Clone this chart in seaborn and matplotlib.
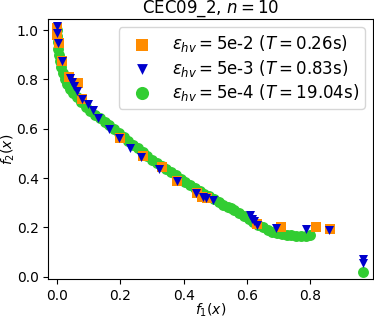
import pandas as pd
import matplotlib.pyplot as plt
import seaborn as sns

# Pareto front approximations
# eps_hv = 5e-2
f1_a = [0.000, 0.001, 0.005, 0.016, 0.038, 0.066, 0.079, 0.198, 0.270, 0.330,
        0.379, 0.442, 0.456, 0.472, 0.630, 0.706, 0.816, 0.861]
f2_a = [1.010, 0.980, 0.946, 0.876, 0.811, 0.784, 0.719, 0.561, 0.490, 0.444,
        0.388, 0.338, 0.324, 0.318, 0.214, 0.203, 0.200, 0.192]

# eps_hv = 5e-3
f1_b = [0.000, 0.000, 0.003, 0.016, 0.040, 0.047, 0.054, 0.063, 0.079, 0.098,
        0.112, 0.130, 0.163, 0.195, 0.230, 0.266, 0.321, 0.377, 0.440, 0.461,
        0.469, 0.491, 0.610, 0.616, 0.622, 0.630, 0.690, 0.787, 0.859, 0.966,
        0.966]
f2_b = [1.015, 0.987, 0.949, 0.876, 0.804, 0.790, 0.773, 0.753, 0.719, 0.699,
        0.676, 0.642, 0.599, 0.561, 0.520, 0.486, 0.438, 0.388, 0.338, 0.324,
        0.318, 0.311, 0.250, 0.233, 0.224, 0.210, 0.199, 0.193, 0.189, 0.070,
        0.056]

# eps_hv = 5e-4 (dense front)
f1_c = [0.000, 0.001, 0.002, 0.004, 0.006, 0.009, 0.013, 0.018, 0.024, 0.032,
        0.040, 0.050, 0.062, 0.075, 0.090, 0.105, 0.120, 0.135, 0.150, 0.165,
        0.180, 0.195, 0.210, 0.225, 0.240, 0.255, 0.270, 0.285, 0.300, 0.315,
        0.330, 0.345, 0.360, 0.375, 0.390, 0.405, 0.420, 0.435, 0.450, 0.465,
        0.480, 0.495, 0.510, 0.525, 0.540, 0.550, 0.560, 0.575, 0.590, 0.605,
        0.620, 0.635, 0.650, 0.665, 0.680, 0.695, 0.710, 0.725, 0.740, 0.755,
        0.770, 0.785, 0.798, 0.966]
f2_c = [1.000, 0.975, 0.950, 0.925, 0.900, 0.875, 0.850, 0.825, 0.800, 0.780,
        0.760, 0.745, 0.728, 0.710, 0.690, 0.673, 0.657, 0.642, 0.628, 0.614,
        0.598, 0.583, 0.567, 0.552, 0.536, 0.520, 0.506, 0.490, 0.475, 0.462,
        0.449, 0.437, 0.424, 0.411, 0.397, 0.384, 0.372, 0.360, 0.348, 0.337,
        0.326, 0.315, 0.304, 0.292, 0.281, 0.278, 0.272, 0.258, 0.245, 0.233,
        0.222, 0.210, 0.200, 0.190, 0.182, 0.176, 0.172, 0.170, 0.168, 0.167,
        0.166, 0.167, 0.168, 0.018]

labels = [r"$\varepsilon_{hv} = $5e-2 ($T = $0.26s)",
          r"$\varepsilon_{hv} = $5e-3 ($T = $0.83s)",
          r"$\varepsilon_{hv} = $5e-4 ($T = $19.04s)"]

fig = plt.figure(figsize=(3.74, 3.17), dpi=100)
ax = fig.add_axes([0.129, 0.12, 0.868, 0.82])

df_c = pd.DataFrame({"f1": f1_c, "f2": f2_c})
df_a = pd.DataFrame({"f1": f1_a, "f2": f2_a})
df_b = pd.DataFrame({"f1": f1_b, "f2": f2_b})

sns.scatterplot(data=df_c, x="f1", y="f2", ax=ax, marker="o", s=62,
                color="limegreen", linewidth=0, label=labels[2], zorder=1)
sns.scatterplot(data=df_a, x="f1", y="f2", ax=ax, marker="s", s=48,
                color="darkorange", linewidth=0, label=labels[0], zorder=2)
sns.scatterplot(data=df_b, x="f1", y="f2", ax=ax, marker="v", s=42,
                color="mediumblue", linewidth=0, label=labels[1], zorder=3)

ax.set_xlim(-0.028, 0.997)
ax.set_ylim(-0.009, 1.045)
ax.set_xticks([0.0, 0.2, 0.4, 0.6, 0.8])
ax.set_yticks([0.0, 0.2, 0.4, 0.6, 0.8, 1.0])
ax.set_xlabel(r"$f_1(x)$", labelpad=-1)
ax.set_ylabel(r"$f_2(x)$", labelpad=0)
ax.set_title(r"CEC09_2, $n = 10$", fontsize=12, pad=3)

handles, labs = ax.get_legend_handles_labels()
order = [1, 2, 0]
ax.legend([handles[i] for i in order], [labs[i] for i in order],
          loc="upper right", fontsize=12, markerscale=1.2,
          labelspacing=0.2, borderpad=0.35)

fig.savefig("out.png", dpi=100)
